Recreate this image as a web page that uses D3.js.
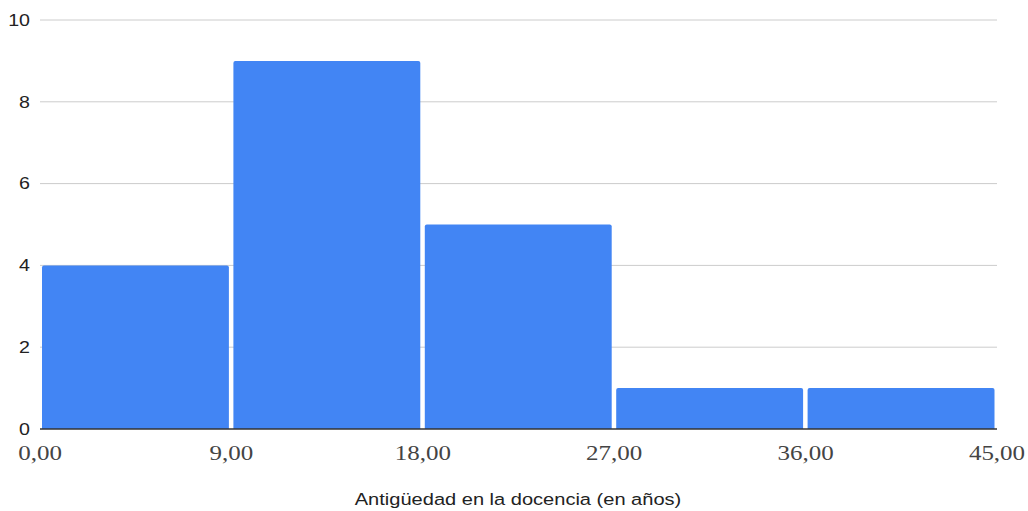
<!DOCTYPE html>
<html><head><meta charset="utf-8">
<script src="https://cdn.jsdelivr.net/npm/d3@7"></script>
<style>body{margin:0;background:#fff;}</style>
</head><body><svg id="c" width="1028" height="511"></svg>
<script>
const binEdges = [0, 9, 18, 27, 36, 45];
const counts = [4, 9, 5, 1, 1];
const yTicks = [0, 2, 4, 6, 8, 10];
const xTickLabels = ["0,00", "9,00", "18,00", "27,00", "36,00", "45,00"];
const xTitle = "Antigüedad en la docencia (en años)";

const svg = d3.select("#c");
const x = d3.scaleLinear().domain([0, 45]).range([40, 997]);
const y = d3.scaleLinear().domain([0, 10]).range([429, 20]);
const SX = 1.19;

// gridlines
svg.append("g").selectAll("line").data(yTicks.filter(d => d > 0)).join("line")
  .attr("x1", 40).attr("x2", 997)
  .attr("y1", d => y(d)).attr("y2", d => y(d))
  .attr("stroke", "#cccccc").attr("stroke-width", 1);

// y labels
svg.append("g").selectAll("text").data(yTicks).join("text")
  .attr("transform", d => `translate(30,${y(d)}) scale(${SX},1)`)
  .attr("dy", "0.35em")
  .attr("text-anchor", "end")
  .attr("font-family", "Arial, 'Liberation Sans', sans-serif")
  .attr("font-size", 16.5).attr("fill", "#222")
  .text(d => d);

// bars with rounded top corners
const bins = counts.map((c, i) => ({x0: binEdges[i], x1: binEdges[i+1], c}));
function barPath(d) {
  const x0 = x(d.x0) + 2, x1 = x(d.x1) - 2.5, y0 = y(0), y1 = y(d.c), r = 2;
  return `M${x0},${y0}V${y1 + r}Q${x0},${y1} ${x0 + r},${y1}H${x1 - r}Q${x1},${y1} ${x1},${y1 + r}V${y0}Z`;
}
svg.append("g").selectAll("path").data(bins).join("path")
  .attr("d", barPath).attr("fill", "#4285F4");

// baseline
svg.append("line").attr("x1", 40).attr("x2", 997)
  .attr("y1", y(0)).attr("y2", y(0))
  .attr("stroke", "#333").attr("stroke-width", 1.5);

// x labels
svg.append("g").selectAll("text").data(binEdges).join("text")
  .attr("transform", d => `translate(${x(d)},460) scale(${SX},1)`)
  .attr("text-anchor", "middle")
  .attr("font-family", "'Liberation Serif', 'DejaVu Serif', serif")
  .attr("font-size", 21).attr("fill", "#444")
  .text((d, i) => xTickLabels[i]);

// x title
svg.append("text")
  .attr("transform", `translate(518,505) scale(1.18,1)`)
  .attr("text-anchor", "middle")
  .attr("font-family", "Arial, 'Liberation Sans', sans-serif")
  .attr("font-size", 17).attr("fill", "#222")
  .text(xTitle);
</script></body></html>
